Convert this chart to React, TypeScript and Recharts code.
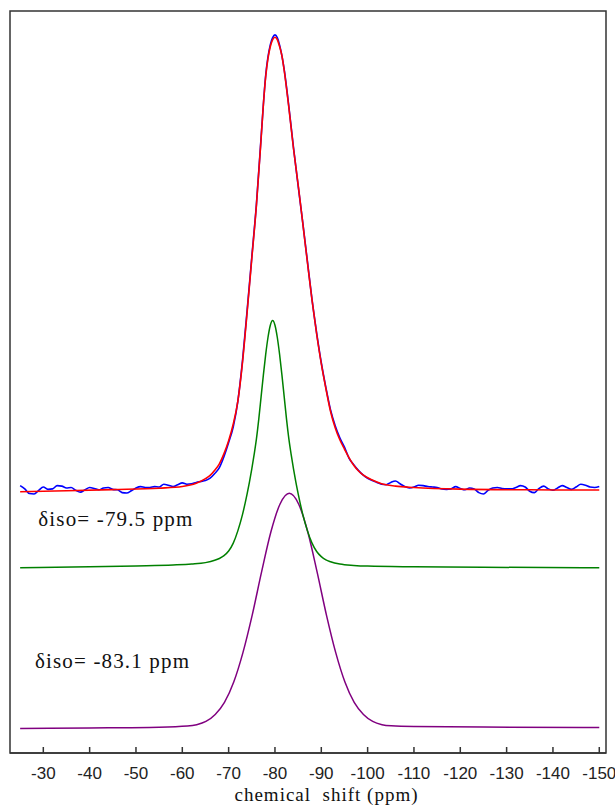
import React from 'react';
import { ComposedChart, Line, XAxis, YAxis, ReferenceDot, ReferenceArea, Label } from 'recharts';

// chemical shift axis (ppm), drawn high -> low from left to right
const PPM_TICKS = [-30, -40, -50, -60, -70, -80, -90, -100, -110, -120, -130, -140, -150];
const PPM_DOMAIN: [number, number] = [-151.45, -22.81];
const INTENSITY_DOMAIN: [number, number] = [0, 160];

// vertical offsets of the stacked traces (arbitrary intensity units)
const FIT_OFFSET = 56.35;
const SITE1_OFFSET = 39.95;
const SITE2_OFFSET = 5.3;

// experimental spectrum [ppm, intensity]
const EXPERIMENT: [number, number][] = [
  [-25, 1.3], [-26, 0.6], [-27, -0.4], [-28, -0.5], [-29, 0.3], [-30, 1.0], [-31, 0.5], [-32, 0.6],
  [-33, 1.3], [-34, 1.2], [-35, 0.8], [-36, 0.9], [-37, 0.3], [-38, -0.1], [-39, 0.4], [-40, 0.9],
  [-41, 0.7], [-42, 0.4], [-43, 0.8], [-44, 0.9], [-45, 0.5], [-46, 0.4], [-47, -0.2], [-48, -0.3],
  [-49, 0.2], [-50, 0.8], [-51, 1.1], [-52, 0.9], [-53, 0.9], [-54, 1.1], [-55, 1.0], [-56, 1.6],
  [-57, 1.4], [-58, 1.1], [-59, 1.5], [-60, 1.9], [-61, 1.6], [-62, 1.7], [-63, 2.0], [-64, 2.2],
  [-65, 2.4], [-66, 2.9], [-67, 3.9], [-68, 5.2], [-69, 7.6], [-70, 10.6], [-71, 14.0], [-72, 19.6],
  [-73, 28.3], [-74, 39.2], [-75, 50.6], [-76, 62.0], [-77, 76.3], [-78, 89.8], [-79, 96.4],
  [-79.5, 97.9], [-80, 98.5], [-80.5, 97.9], [-81, 96.3], [-82, 91.0], [-83, 83.0], [-84, 74.2],
  [-85, 66.0], [-86, 58.0], [-87, 49.7], [-88, 41.4], [-89, 34.2], [-90, 27.8], [-91, 22.4],
  [-92, 17.6], [-93, 14.2], [-94, 11.6], [-95, 9.6], [-96, 7.2], [-97, 5.8], [-98, 4.6], [-99, 3.6],
  [-100, 2.9], [-101, 2.4], [-102, 2.0], [-103, 1.6], [-104, 1.5], [-105, 2.0], [-106, 2.3],
  [-107, 1.7], [-108, 1.1], [-109, 0.8], [-110, 1.0], [-111, 1.4], [-112, 1.3], [-113, 1.1],
  [-114, 1.0], [-115, 0.9], [-116, 0.6], [-117, 0.5], [-118, 0.6], [-119, 1.1], [-120, 0.7],
  [-121, 0.4], [-122, 0.8], [-123, 0.6], [-124, -0.2], [-125, -0.5], [-126, 0.3], [-127, 0.8],
  [-128, 0.9], [-129, 0.7], [-130, 0.6], [-131, 0.6], [-132, 0.9], [-133, 1.3], [-134, 1.0],
  [-135, 0.1], [-136, -0.2], [-137, 0.7], [-138, 1.2], [-139, 0.6], [-140, 0.3], [-141, 0.8],
  [-142, 1.3], [-143, 0.9], [-144, 0.5], [-145, 1.0], [-146, 1.6], [-147, 1.4], [-148, 1.0],
  [-149, 0.9], [-150, 1.1],
];

// total fit [ppm, intensity]
const FIT: [number, number][] = [
  [-25, 0], [-35, 0.2], [-45, 0.45], [-55, 0.75], [-60, 1.1], [-63, 1.8], [-65, 2.8], [-66, 3.5],
  [-67, 4.6], [-68, 6.0], [-69, 8.2], [-70, 11.0], [-71, 14.6], [-72, 19.6], [-73, 28.0],
  [-74, 38.8], [-75, 50.3], [-76, 61.8], [-77, 76.0], [-77.5, 83.5], [-78, 89.5], [-78.5, 93.5],
  [-79, 96.0], [-79.5, 97.5], [-80, 98.0], [-80.5, 97.5], [-81, 96.0], [-81.5, 94.0], [-82, 90.8],
  [-83, 82.8], [-84, 74.0], [-85, 66.2], [-86, 57.9], [-87, 49.5], [-88, 41.3], [-89, 34.0],
  [-90, 27.6], [-91, 22.2], [-92, 17.3], [-93, 13.8], [-94, 11.2], [-95, 9.2], [-96, 7.3],
  [-97, 5.7], [-98, 4.5], [-99, 3.6], [-101, 2.5], [-103, 1.7], [-106, 1.2], [-110, 0.9],
  [-120, 0.55], [-135, 0.4], [-150, 0.35],
];

// site 1, δiso = -79.5 ppm [ppm, intensity]
const SITE1: [number, number][] = [
  [-25, 0], [-40, 0.2], [-50, 0.4], [-58, 0.6], [-62, 0.8], [-65, 1.1], [-67, 1.6], [-68, 2.0],
  [-69, 2.6], [-70, 3.6], [-71, 5.3], [-72, 8.0], [-73, 11.5], [-74, 16.0], [-74.5, 18.5],
  [-75, 21.3], [-75.5, 24.4], [-76, 27.8], [-76.5, 32.0], [-77, 36.8], [-77.5, 41.6], [-78, 46.0],
  [-78.5, 49.7], [-79, 52.3], [-79.5, 53.3], [-80, 52.3], [-80.5, 49.7], [-81, 46.0], [-81.5, 41.6],
  [-82, 36.8], [-82.5, 32.0], [-83, 27.8], [-83.5, 24.4], [-84, 21.3], [-84.5, 18.5], [-85, 16.0],
  [-86, 11.5], [-87, 8.0], [-88, 5.3], [-89, 3.5], [-90, 2.4], [-91, 1.7], [-92, 1.3], [-94, 0.8],
  [-97, 0.5], [-100, 0.35], [-110, 0.2], [-125, 0.1], [-150, 0],
];

// site 2, δiso = -83.1 ppm [ppm, intensity]
const SITE2: [number, number][] = [
  [-25, 0], [-40, 0.1], [-55, 0.25], [-61.1, 0.5], [-63.1, 0.8], [-65.1, 1.5], [-67.1, 3.0],
  [-69.1, 5.6], [-71.1, 10.0], [-73.1, 16.4], [-75.1, 24.5], [-77.1, 33.7], [-79.1, 42.3],
  [-81.1, 48.4], [-83.1, 50.7], [-85.1, 48.4], [-87.1, 42.3], [-89.1, 33.7], [-91.1, 24.5],
  [-93.1, 16.4], [-95.1, 10.0], [-97.1, 5.6], [-99.1, 3.0], [-101.1, 1.5], [-103.1, 0.8],
  [-105.1, 0.55], [-110, 0.4], [-125, 0.3], [-150, 0.2],
];

const ANNOTATIONS = [
  { ppm: -28.92, y: 49.0, text: 'δiso= -79.5 ppm' },
  { ppm: -28.2, y: 18.26, text: 'δiso= -83.1 ppm' },
];

const AXIS_COLOR = '#333';
const SERIF = "'Liberation Serif', 'Times New Roman', serif";

const toRows = (pts: [number, number][], offset: number) =>
  pts.map(([ppm, v]) => ({ ppm, y: v + offset }));

function PpmTick(props: any) {
  const { x, y, payload } = props;
  return (
    <g>
      <line x1={x} x2={x} y1={y} y2={y - 6} stroke={AXIS_COLOR} strokeWidth={1.5} />
      <text
        x={x}
        y={y + 26}
        textAnchor="middle"
        fontFamily="'Liberation Sans', Arial, sans-serif"
        fontSize={17}
        fill="#222"
      >
        {payload.value}
      </text>
    </g>
  );
}

export default function App() {
  const traces = [
    { key: 'site2', rows: toRows(SITE2, SITE2_OFFSET), color: '#800080', width: 1.5 },
    { key: 'site1', rows: toRows(SITE1, SITE1_OFFSET), color: '#008000', width: 1.5 },
    { key: 'exp', rows: toRows(EXPERIMENT, FIT_OFFSET), color: '#0000ff', width: 1.6 },
    { key: 'fit', rows: toRows(FIT, FIT_OFFSET), color: '#ff0000', width: 1.6 },
  ];

  return (
    <div style={{ position: 'absolute', left: 0, top: 0, background: '#fff' }}>
      <ComposedChart width={615} height={806} margin={{ top: 11, right: 9, bottom: 0, left: 10 }}>
        <XAxis
          dataKey="ppm"
          type="number"
          domain={PPM_DOMAIN}
          allowDataOverflow
          reversed
          ticks={PPM_TICKS}
          interval={0}
          height={53}
          tickSize={0}
          tickMargin={0}
          tickLine={false}
          tick={<PpmTick />}
          axisLine={{ stroke: AXIS_COLOR, strokeWidth: 1.5 }}
        >
          <Label
            content={(p: any) => {
              const vb = p.viewBox;
              return (
                <text
                  x={vb.x + vb.width / 2 + 18}
                  y={vb.y + 48}
                  textAnchor="middle"
                  fontFamily={SERIF}
                  fontSize={19}
                  textLength={183}
                  lengthAdjust="spacing"
                  fill="#111"
                  style={{ whiteSpace: 'pre' }}
                >
                  chemical  shift (ppm)
                </text>
              );
            }}
          />
        </XAxis>
        <YAxis type="number" domain={INTENSITY_DOMAIN} allowDataOverflow hide />
        {/* plot frame */}
        <ReferenceArea
          x1={PPM_DOMAIN[1]}
          x2={PPM_DOMAIN[0]}
          y1={INTENSITY_DOMAIN[0]}
          y2={INTENSITY_DOMAIN[1]}
          fill="none"
          stroke={AXIS_COLOR}
          strokeWidth={1.5}
        />
        {traces.map((t) => (
          <Line
            key={t.key}
            data={t.rows}
            dataKey="y"
            type="monotone"
            stroke={t.color}
            strokeWidth={t.width}
            dot={false}
            activeDot={false}
            isAnimationActive={false}
          />
        ))}
        {ANNOTATIONS.map((a) => (
          <ReferenceDot
            key={a.text}
            x={a.ppm}
            y={a.y}
            r={1}
            shape={(p: any) => (
              <text
                x={p.cx}
                y={p.cy}
                textAnchor="start"
                fontFamily={SERIF}
                fontSize={21}
                textLength={154}
                lengthAdjust="spacing"
                fill="#111"
              >
                {a.text}
              </text>
            )}
          />
        ))}
      </ComposedChart>
    </div>
  );
}
